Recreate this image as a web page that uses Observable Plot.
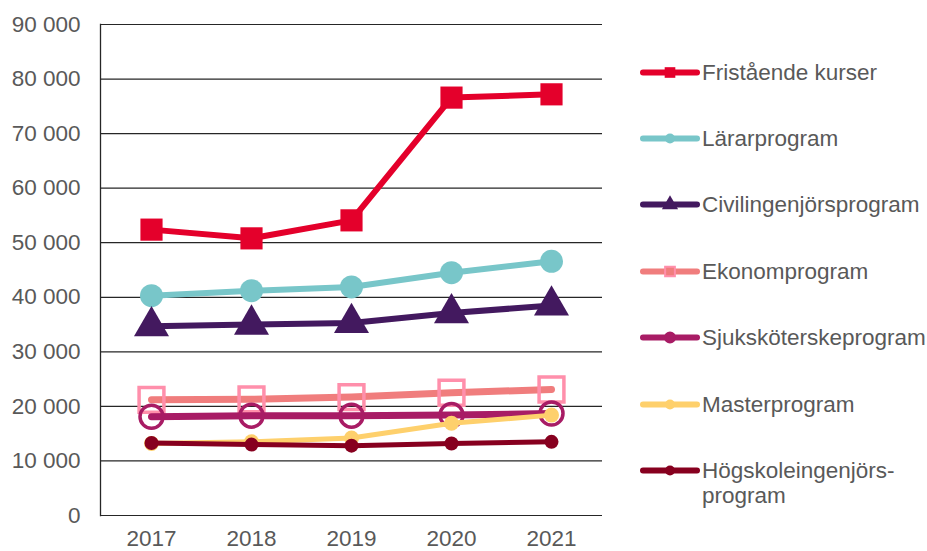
<!DOCTYPE html>
<html>
<head>
<meta charset="utf-8">
<script src="https://cdn.jsdelivr.net/npm/d3@7"></script>
<script src="https://cdn.jsdelivr.net/npm/@observablehq/plot@0.6"></script>
<style>
  body { margin: 0; background: #fff; font-family: "Liberation Sans", Arial, sans-serif; }
  #wrap { position: relative; width: 927px; height: 551px; overflow: hidden; }
  #legend { position: absolute; left: 640px; top: 0; }
  .item { position: absolute; left: 0; display: flex; align-items: flex-start; color: #595959; font-size: 22.5px; line-height: 25px; white-space: nowrap; }
  .item svg { flex: none; }
</style>
</head>
<body>
<div id="wrap"><div id="chart"></div><div id="legend"></div></div>
<script>
const years = [2017, 2018, 2019, 2020, 2021];
const yTicks = [0, 10000, 20000, 30000, 40000, 50000, 60000, 70000, 80000, 90000];

const seriesNames = ["Fristående kurser", "Lärarprogram", "Civilingenjörsprogram", "Ekonomprogram", "Sjuksköterskeprogram", "Masterprogram", "Högskoleingenjörs-\nprogram"];

const fristaende   = [52400, 50800, 54100, 76600, 77200];
const lararprogram = [40300, 41200, 41900, 44500, 46600];
const civilingenjor = [34700, 35000, 35300, 37100, 38500];
const ekonom       = [21200, 21300, 21700, 22500, 23100];
const sjukskoterske = [18100, 18300, 18300, 18400, 18700];
const master       = [13200, 13500, 14200, 16900, 18400];
const hogskoleing  = [13300, 13000, 12800, 13200, 13500];

const seriesValues = [fristaende, lararprogram, civilingenjor, ekonom, sjukskoterske, master, hogskoleing];

// styles per series (not data)
const styles = [
  {line: "#e4002b", sym: "square",   r: 12.5, fill: "#e4002b", stroke: "none", sw: 0, w: 6, lr: 6, ls: "square"},
  {line: "#78c6c9", sym: "circle",   r: 11.5, fill: "#78c6c9", stroke: "none", sw: 0, w: 6, lr: 5, ls: "circle"},
  {line: "#43195f", sym: "triangle", r: 13,   fill: "#43195f", stroke: "none", sw: 0, w: 6, lr: 6, ls: "triangle"},
  {line: "#f07d7d", sym: "square",   r: 14,   fill: "none", stroke: "#ff8fab", sw: 3.5, w: 7, lr: 5.5, ls: "square"},
  {line: "#a81c65", sym: "circle",   r: 11.5, fill: "none", stroke: "#a81c65", sw: 3.5, w: 7, lr: 5, ls: "circle"},
  {line: "#fed06c", sym: "circle",   r: 7.5,  fill: "#fed06c", stroke: "none", sw: 0, w: 5, lr: 5, ls: "circle"},
  {line: "#87001f", sym: "circle",   r: 7,    fill: "#87001f", stroke: "none", sw: 0, w: 5, lr: 5, ls: "circle"}
];

const data = [];
seriesNames.forEach((name, i) => {
  years.forEach((yr, j) => data.push({series: name, idx: i, year: yr, value: seriesValues[i][j]}));
});

const fmt = d => d3.format(",")(d).replace(/,/g, " ");

const marks = [
  Plot.ruleY(yTicks, {stroke: "#262626", strokeWidth: 1.2}),
  Plot.axisY({ticks: yTicks, tickSize: 0, tickPadding: 20, tickFormat: fmt, fontSize: 22.5, fill: "#595959", label: null}),
  Plot.axisX({tickSize: 0, tickPadding: 15, tickFormat: d => String(d), fontSize: 22.5, fill: "#595959", label: null}),
  Plot.frame({anchor: "left", stroke: "#262626", strokeWidth: 1.3})
];

seriesNames.forEach((name, i) => {
  const s = styles[i];
  const d = data.filter(o => o.idx === i);
  marks.push(Plot.line(d, {x: "year", y: "value", stroke: s.line, strokeWidth: s.w, curve: "linear", strokeLinecap: "round", strokeLinejoin: "round"}));
  marks.push(Plot.dot(d, {x: "year", y: "value", symbol: () => s.sym, r: s.r, fill: s.fill, stroke: s.stroke, strokeWidth: s.sw}));
});

const chart = Plot.plot({
  width: 927,
  height: 551,
  marginLeft: 100,
  marginRight: 325,
  marginTop: 24,
  marginBottom: 36,
  style: {fontFamily: "'Liberation Sans', Arial, sans-serif", background: "#fff", overflow: "visible"},
  x: {type: "point", domain: years, padding: 0.5},
  y: {domain: [0, 90000]},
  symbol: {domain: ["square", "circle", "triangle"], range: ["square", "circle", "triangle"]},
  marks
});
document.getElementById("chart").appendChild(chart);

// legend
const legendY = [72, 138, 204, 271, 337, 404, 470];
const leg = document.getElementById("legend");
seriesNames.forEach((name, i) => {
  const s = styles[i];
  const div = document.createElement("div");
  div.className = "item";
  div.style.top = (legendY[i] - 12.5) + "px";
  const svg = d3.create("svg").attr("width", 62).attr("height", 25);
  svg.append("line").attr("x1", 3).attr("x2", 57).attr("y1", 12.5).attr("y2", 12.5)
    .attr("stroke", s.line).attr("stroke-width", 6).attr("stroke-linecap", "round");
  const sym = s.ls === "square" ? d3.symbolSquare : s.ls === "triangle" ? d3.symbolTriangle : d3.symbolCircle;
  const size = Math.PI * s.lr * s.lr;
  svg.append("path").attr("d", d3.symbol(sym, size)()).attr("transform", "translate(30,12.5)")
    .attr("fill", s.fill === "none" ? s.line : s.fill)
    .attr("stroke", s.stroke === "none" ? "none" : s.stroke).attr("stroke-width", s.stroke === "none" ? 0 : 2);
  div.appendChild(svg.node());
  const span = document.createElement("span");
  span.style.whiteSpace = "pre";
  span.textContent = name;
  div.appendChild(span);
  leg.appendChild(div);
});
</script>
</body>
</html>
